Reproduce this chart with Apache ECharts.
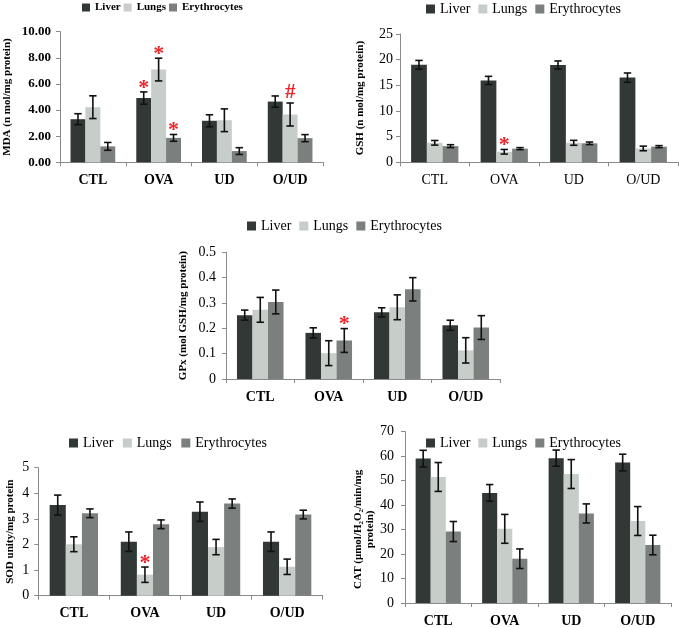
<!DOCTYPE html>
<html><head><meta charset="utf-8">
<script src="https://cdn.jsdelivr.net/npm/echarts@6/dist/echarts.min.js"></script>
<style>html,body{margin:0;padding:0;background:#fff}#c{width:679px;height:628px}</style>
</head><body><div id="c"></div><script>
const categories = ['CTL', 'OVA', 'UD', 'O/UD'];
const groups = ['Liver', 'Lungs', 'Erythrocytes'];

// MDA
const mdaLiver = [3.3, 4.92, 3.18, 4.65];
const mdaLungs = [4.22, 7.1, 3.22, 3.66];
const mdaEry = [1.22, 1.87, 0.86, 1.85];
const mdaLiverErr = [0.42, 0.47, 0.46, 0.43];
const mdaLungsErr = [0.87, 0.87, 0.87, 0.88];
const mdaEryErr = [0.3, 0.26, 0.26, 0.27];
const mdaMarks = [[1, 0], [1, 1], [1, 2], [3, 1]];
const mdaMarkSym = ['*', '*', '*', '#'];
const mdaTicks = [0, 2, 4, 6, 8, 10];

// GSH
const gshLiver = [19.0, 15.95, 18.95, 16.5];
const gshLungs = [3.8, 2.05, 3.8, 2.7];
const gshEry = [3.15, 2.66, 3.7, 3.05];
const gshLiverErr = [0.85, 0.8, 0.8, 0.9];
const gshLungsErr = [0.45, 0.45, 0.48, 0.45];
const gshEryErr = [0.28, 0.2, 0.25, 0.2];
const gshMarks = [[1, 1]];
const gshMarkSym = ['*'];
const gshTicks = [0, 5, 10, 15, 20, 25];

// GPx
const gpxLiver = [0.252, 0.182, 0.263, 0.212];
const gpxLungs = [0.273, 0.102, 0.283, 0.113];
const gpxEry = [0.304, 0.152, 0.354, 0.203];
const gpxLiverErr = [0.02, 0.02, 0.018, 0.02];
const gpxLungsErr = [0.049, 0.049, 0.049, 0.05];
const gpxEryErr = [0.047, 0.047, 0.046, 0.047];
const gpxMarks = [[1, 2]];
const gpxMarkSym = ['*'];
const gpxTicks = [0, 0.1, 0.2, 0.3, 0.4, 0.5];

// SOD
const sodLiver = [3.54, 2.11, 3.28, 2.11];
const sodLungs = [2.01, 0.82, 1.9, 1.13];
const sodEry = [3.22, 2.79, 3.6, 3.17];
const sodLiverErr = [0.39, 0.38, 0.38, 0.38];
const sodLungsErr = [0.29, 0.3, 0.3, 0.3];
const sodEryErr = [0.17, 0.17, 0.18, 0.17];
const sodMarks = [[1, 1]];
const sodMarkSym = ['*'];
const sodTicks = [0, 1, 2, 3, 4, 5];

// CAT
const catLiver = [59.0, 45.0, 59.2, 57.4];
const catLungs = [51.5, 30.3, 52.7, 33.5];
const catEry = [29.2, 18.1, 36.6, 23.7];
const catLiverErr = [3.4, 3.4, 3.3, 3.4];
const catLungsErr = [5.9, 5.9, 5.9, 5.9];
const catEryErr = [4.1, 4.0, 3.9, 4.0];
const catTicks = [0, 10, 20, 30, 40, 50, 60, 70];

const FF = '"Liberation Serif", "Times New Roman", serif';
const colors = ['#323836', '#c7cdc8', '#7b807e'];
const AXC = '#8a8a8a';
const GAP = 0.32;
const RED = '#e8262c';

const panels = [
  { vals: [mdaLiver, mdaLungs, mdaEry], errs: [mdaLiverErr, mdaLungsErr, mdaEryErr], marks: mdaMarks, sym: mdaMarkSym, ticks: mdaTicks,
    grid: { left: 60, top: 31.7, width: 263, height: 130.6 }, yLabelBold: true, yFmt: v => v.toFixed(2), yFont: 13, yMargin: 9,
    xBold: true, xFont: 14, name: 'MDA (n mol/mg protein)', nameGap: 47, namePad: [0, 0, 0, 0],
    legend: { left: 82, top: 0, bold: true, font: 11, icon: 8, gap: 3 } },
  { vals: [gshLiver, gshLungs, gshEry], errs: [gshLiverErr, gshLungsErr, gshEryErr], marks: gshMarks, sym: gshMarkSym, ticks: gshTicks,
    grid: { left: 400, top: 34, width: 278, height: 128.3 }, yLabelBold: false, yFmt: v => String(v), yFont: 14, yMargin: 7,
    xBold: false, xFont: 14, name: 'GSH (n mol/mg protein)', nameGap: 34, namePad: [0, 0, 0, 0],
    legend: { left: 426, top: 0, bold: false, font: 14, icon: 9, gap: 8 } },
  { vals: [gpxLiver, gpxLungs, gpxEry], errs: [gpxLiverErr, gpxLungsErr, gpxEryErr], marks: gpxMarks, sym: gpxMarkSym, ticks: gpxTicks,
    grid: { left: 226, top: 252.3, width: 274, height: 126.7 }, yLabelBold: false, yFmt: v => String(v), yFont: 14, yMargin: 10,
    xBold: true, xFont: 14, name: 'GPx (mol GSH/mg protein)', nameGap: 37, namePad: [0, 0, 0, 0],
    legend: { left: 247, top: 217, bold: false, font: 14, icon: 9, gap: 8 } },
  { vals: [sodLiver, sodLungs, sodEry], errs: [sodLiverErr, sodLungsErr, sodEryErr], marks: sodMarks, sym: sodMarkSym, ticks: sodTicks,
    grid: { left: 38.3, top: 467.7, width: 284.4, height: 128 }, yLabelBold: false, yFmt: v => String(v), yFont: 14, yMargin: 9,
    xBold: true, xFont: 14, name: 'SOD unity/mg protein', nameGap: 23, namePad: [0, 0, 0, 0],
    legend: { left: 69, top: 434, bold: false, font: 14, icon: 9, gap: 9.5 } },
  { vals: [catLiver, catLungs, catEry], errs: [catLiverErr, catLungsErr, catEryErr], marks: [], sym: [], ticks: catTicks,
    grid: { left: 405, top: 431.7, width: 266, height: 171.6 }, yLabelBold: false, yFmt: v => String(v), yFont: 14, yMargin: 11,
    xBold: true, xFont: 14,
    name: '{b|CAT (μmol/H}{s|2}{b|O}{s|2}{b|/min/mg}\n{b|protein)}', rich: true, nameGap: 26, namePad: [0, 24, 0, 0],
    legend: { left: 426, top: 434, bold: false, font: 14, icon: 9, gap: 8 } }
];

function errRender(params, api) {
  const c = api.value(0), k = api.value(1);
  const bw = api.size([1, 0])[0];
  const barW = bw * (1 - GAP) / 3;
  const x = api.coord([c, 0])[0] + (k - 1) * barW;
  const yLo = api.coord([c, api.value(2)])[1];
  const yHi = api.coord([c, api.value(3)])[1];
  const cap = 3.7;
  const st = { stroke: '#111', lineWidth: 1.6 };
  return { type: 'group', children: [
    { type: 'line', shape: { x1: x, y1: yLo, x2: x, y2: yHi }, style: st },
    { type: 'line', shape: { x1: x - cap, y1: yHi, x2: x + cap, y2: yHi }, style: st },
    { type: 'line', shape: { x1: x - cap, y1: yLo, x2: x + cap, y2: yLo }, style: st }
  ] };
}

function makeMarkRender(sym) {
  return function (params, api) {
    const c = api.value(0), k = api.value(1);
    const bw = api.size([1, 0])[0];
    const barW = bw * (1 - GAP) / 3;
    const x = api.coord([c, 0])[0] + (k - 1) * barW;
    const y = api.coord([c, api.value(2)])[1];
    const s = sym[params.dataIndex];
    const star = s === '*';
    return { type: 'text', style: {
      text: s, x: x, y: star ? y - 4 : y - 10, fill: RED,
      fontSize: star ? 22 : 21, fontWeight: 'bold', fontFamily: FF,
      align: 'center', verticalAlign: 'middle'
    } };
  };
}

const option = { animation: false, grid: [], xAxis: [], yAxis: [], series: [], legend: [] };

panels.forEach((p, i) => {
  option.grid.push(Object.assign({}, p.grid));
  option.xAxis.push({
    type: 'category', gridIndex: i, data: categories,
    axisLine: { lineStyle: { color: AXC, width: 1 } },
    axisTick: { show: true, length: 4, lineStyle: { color: AXC } },
    axisLabel: { color: '#000', fontFamily: FF, fontSize: p.xFont, fontWeight: p.xBold ? 'bold' : 'normal', margin: 11 }
  });
  const nameStyle = p.rich ? {
    padding: p.namePad,
    rich: {
      b: { fontSize: 11, fontWeight: 'bold', fontFamily: FF, color: '#000', lineHeight: 12 },
      s: { fontSize: 7, fontWeight: 'bold', fontFamily: FF, color: '#000', lineHeight: 12, verticalAlign: 'bottom', padding: [5, 0, 0, 0] }
    }
  } : { fontSize: 11, fontWeight: 'bold', fontFamily: FF, color: '#000', padding: p.namePad };
  option.yAxis.push({
    type: 'value', gridIndex: i, min: 0, max: p.ticks[p.ticks.length - 1], interval: p.ticks[1] - p.ticks[0],
    splitLine: { show: false },
    axisLine: { show: true, lineStyle: { color: AXC, width: 1 } },
    axisTick: { show: true, length: 4, lineStyle: { color: AXC } },
    axisLabel: { color: '#000', fontFamily: FF, fontSize: p.yFont, fontWeight: p.yLabelBold ? 'bold' : 'normal', margin: p.yMargin, formatter: p.yFmt },
    name: p.name, nameLocation: 'middle', nameGap: p.nameGap, nameRotate: 90, nameTextStyle: nameStyle
  });
  p.vals.forEach((vals, k) => {
    option.series.push({
      type: 'bar', name: groups[k], xAxisIndex: i, yAxisIndex: i, data: vals,
      barGap: '0%', barCategoryGap: (GAP * 100) + '%', itemStyle: { color: colors[k] }, silent: true
    });
  });
  const errData = [];
  p.vals.forEach((vals, k) => vals.forEach((v, c) => errData.push([c, k, v - p.errs[k][c], v + p.errs[k][c]])));
  option.series.push({ type: 'custom', xAxisIndex: i, yAxisIndex: i, data: errData, encode: { x: 0, y: [2, 3] }, renderItem: errRender, z: 5, silent: true });
  if (p.marks.length) {
    const mData = p.marks.map(([c, k]) => [c, k, p.vals[k][c] + p.errs[k][c]]);
    option.series.push({ type: 'custom', xAxisIndex: i, yAxisIndex: i, data: mData, encode: { x: 0, y: 2 }, renderItem: makeMarkRender(p.sym), z: 6, silent: true });
  }
  const L = p.legend;
  option.legend.push({
    data: groups, left: L.left, top: L.top, icon: 'rect', itemWidth: L.icon, itemHeight: L.icon, itemGap: L.gap,
    selectedMode: false, padding: [2, 0, 2, 0],
    textStyle: { fontFamily: FF, fontSize: L.font, fontWeight: L.bold ? 'bold' : 'normal', color: '#000' }
  });
});

const chart = echarts.init(document.getElementById('c'), null, { renderer: 'canvas' });
chart.setOption(option);
</script></body></html>
